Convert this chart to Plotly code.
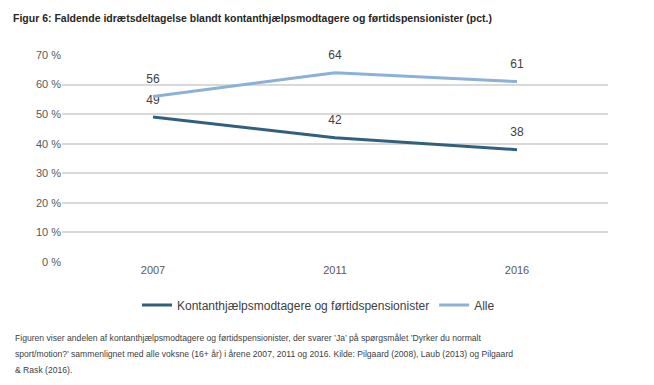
import plotly.graph_objects as go

years = ["2007", "2011", "2016"]
kontant = [49, 42, 38]
alle = [56, 64, 61]
series_names = ["Kontanthjælpsmodtagere og førtidspensionister", "Alle"]
y_ticks = [0, 10, 20, 30, 40, 50, 60, 70]
y_tick_labels = [f"{v} %" for v in y_ticks]
title_text = "Figur 6: Faldende idrætsdeltagelse blandt kontanthjælpsmodtagere og førtidspensionister (pct.)"
caption_lines = [
    "Figuren viser andelen af kontanthjælpsmodtagere og førtidspensionister, der svarer ’Ja’ på spørgsmålet ’Dyrker du normalt",
    "sport/motion?’ sammenlignet med alle voksne (16+ år) i årene 2007, 2011 og 2016. Kilde: Pilgaard (2008), Laub (2013) og Pilgaard",
    "&amp; Rask (2016).",
]

FONT = "Liberation Sans, Arial"
W, H = 654, 385
OFF = 8  # page body margin offset
# target screen coordinates
plot_left, plot_right, plot_top, plot_bottom = 62, 608, 55, 262
L = plot_left - OFF
R = W - (plot_right - OFF)
T = plot_top - OFF
B = H - (plot_bottom - OFF)
pw = W - L - R
ph = H - T - B

def px_x(x):
    return (x - OFF - L) / pw

def px_y(y):
    return (H - B - (y - OFF)) / ph

fig = go.Figure()
fig.add_trace(go.Scatter(
    x=years, y=kontant, name=series_names[0], mode="lines+markers+text",
    text=[str(v) for v in kontant], textposition="top center",
    textfont=dict(color="#404040", size=12, family=FONT),
    marker=dict(size=15, color="rgba(0,0,0,0)"),
    line=dict(color="#31607f", width=3), cliponaxis=False,
))
fig.add_trace(go.Scatter(
    x=years, y=alle, name=series_names[1], mode="lines+markers+text",
    text=[str(v) for v in alle], textposition="top center",
    textfont=dict(color="#404040", size=12, family=FONT),
    marker=dict(size=15, color="rgba(0,0,0,0)"),
    line=dict(color="#8bb1d6", width=3), cliponaxis=False,
))

annotations = []
for i, line in enumerate(caption_lines):
    annotations.append(dict(
        text=line, xref="paper", yref="paper",
        x=px_x(13), y=px_y(338 + 16 * i),
        xanchor="left", yanchor="middle", align="left", showarrow=False,
        font=dict(size=8.6, color="#404040", family=FONT)))

fig.update_layout(
    width=W, height=H,
    margin=dict(l=L, r=R, t=T, b=B),
    paper_bgcolor="white", plot_bgcolor="white",
    font=dict(family=FONT, color="#595959", size=11),
    title=dict(text=f"<b>{title_text}</b>",
               x=(13 - OFF) / W, xanchor="left",
               y=1 - (18 - OFF) / H, yanchor="middle",
               font=dict(family=FONT, size=10.5, color="#262626")),
    xaxis=dict(type="category", showgrid=False, showline=False, ticks="",
               tickfont=dict(size=11, color="#595959"), range=[-0.5, 2.5]),
    yaxis=dict(range=[0, 70], tickvals=y_ticks, ticktext=y_tick_labels,
               showgrid=True, gridcolor="#d9d9d9", gridwidth=1.5,
               zeroline=False, showline=False, ticks="",
               tickfont=dict(size=11, color="#595959")),
    showlegend=True,
    legend=dict(orientation="h", x=px_x(137), xanchor="left",
                y=px_y(305), yanchor="middle",
                font=dict(size=12, color="#404040"),
                itemwidth=30, tracegroupgap=0),
    annotations=annotations,
)

fig.write_html("out.html")
